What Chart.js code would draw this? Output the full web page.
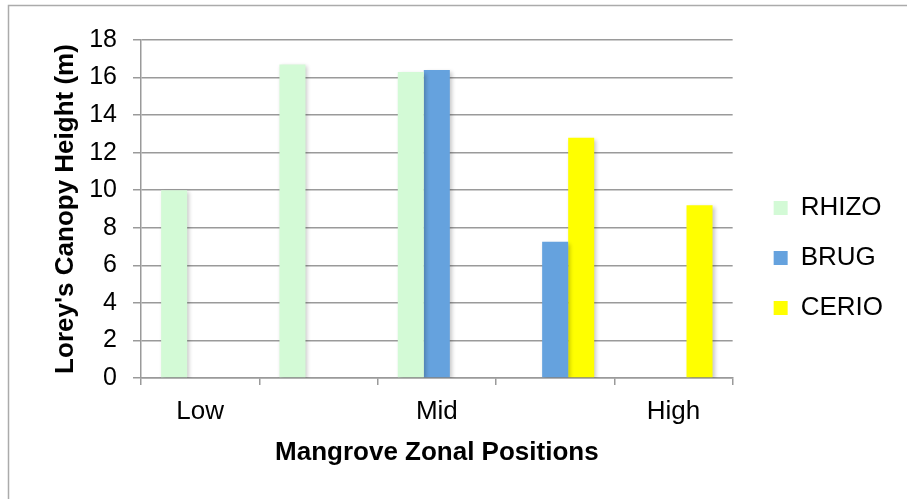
<!DOCTYPE html>
<html>
<head>
<meta charset="utf-8">
<title>Lorey's Canopy Height</title>
<script src="https://cdn.jsdelivr.net/npm/chart.js@4"></script>
<style>
    body { margin: 0; background: #ffffff; }
    canvas { display: block; }
</style>
</head>
<body>
<canvas id="myChart_1" width="907" height="499"></canvas>
<script>
// zonal positions along the x axis (unlabelled ones sit between the zones)
var zones = ['Low', '', 'Mid', '', 'High'];

// canopy height per genus (m), null where the genus is absent
var rhizo = [10.0, 16.7, 16.3, null, null];
var brug = [null, null, 16.4, 7.25, null];
var cerio = [null, null, null, 12.8, 9.2];

var yTicks = [0, 2, 4, 6, 8, 10, 12, 14, 16, 18];

var gridColor = '#9a9a9a';
var fontFamily = '"Liberation Sans", Arial, sans-serif';

// outer frame of the chart box
var framePlugin = {
    id: 'frame',
    beforeDraw: function (chart) {
        var ctx = chart.ctx;
        ctx.save();
        ctx.strokeStyle = '#ababab';
        ctx.lineWidth = 1.5;
        ctx.strokeRect(8.5, 5.5, 1000, 1000);
        ctx.restore();
    }
};

// soft drop shadow under the bars
var shadowPlugin = {
    id: 'barShadow',
    beforeDatasetsDraw: function (chart) {
        var ctx = chart.ctx;
        ctx.save();
        ctx.shadowColor = 'rgba(0, 0, 0, 0.22)';
        ctx.shadowBlur = 4;
        ctx.shadowOffsetX = 2;
        ctx.shadowOffsetY = 2;
    },
    afterDatasetsDraw: function (chart) {
        chart.ctx.restore();
    }
};

var ctx_1 = document.getElementById('myChart_1').getContext('2d');
var myChart = new Chart(ctx_1, {
    type: 'bar',
    data: {
        labels: zones,
        datasets: [
            { label: 'RHIZO', data: rhizo, backgroundColor: '#d3fad6' },
            { label: 'BRUG', data: brug, backgroundColor: '#65a2de' },
            { label: 'CERIO', data: cerio, backgroundColor: '#ffff00' }
        ]
    },
    options: {
        responsive: false,
        animation: false,
        events: [],
        categoryPercentage: 0.66,
        barPercentage: 1.0,
        layout: {
            padding: { left: 0, top: 40, right: 14, bottom: 23 }
        },
        plugins: {
            legend: {
                display: true,
                position: 'right',
                labels: {
                    boxWidth: 14,
                    boxHeight: 14,
                    padding: 24,
                    color: '#000000',
                    font: { family: fontFamily, size: 26 }
                }
            },
            tooltip: { enabled: false }
        },
        scales: {
            x: {
                grid: {
                    offset: true,
                    drawOnChartArea: false,
                    color: gridColor,
                    lineWidth: 1.5,
                    tickLength: 7
                },
                border: { color: gridColor, width: 1.5 },
                ticks: {
                    color: '#000000',
                    padding: 11,
                    maxRotation: 0,
                    autoSkip: false,
                    font: { family: fontFamily, size: 26 }
                },
                title: {
                    display: true,
                    text: 'Mangrove Zonal Positions',
                    color: '#000000',
                    padding: { top: 0, bottom: 8 },
                    font: { family: fontFamily, size: 26, weight: 'bold' }
                },
                afterFit: function (scale) { scale.height = 98; }
            },
            y: {
                min: 0,
                max: 18,
                afterBuildTicks: function (scale) {
                    scale.ticks = yTicks.map(function (v) { return { value: v }; });
                },
                grid: {
                    color: gridColor,
                    lineWidth: 1.5,
                    tickLength: 8
                },
                border: { color: gridColor, width: 1.5 },
                ticks: {
                    color: '#000000',
                    padding: 16,
                    font: { family: fontFamily, size: 25 }
                },
                title: {
                    display: true,
                    text: "Lorey's Canopy Height (m)",
                    color: '#000000',
                    padding: { top: 50, bottom: 0 },
                    font: { family: fontFamily, size: 26, weight: 'bold' }
                },
                afterFit: function (scale) { scale.width = 141; }
            },
            // empty right-hand axis, only keeps a gap before the legend
            gap: {
                position: 'right',
                display: true,
                grid: { display: false },
                border: { display: false },
                ticks: { display: false },
                afterFit: function (scale) { scale.width = 17; }
            }
        }
    },
    plugins: [framePlugin, shadowPlugin]
});
</script>
</body>
</html>
